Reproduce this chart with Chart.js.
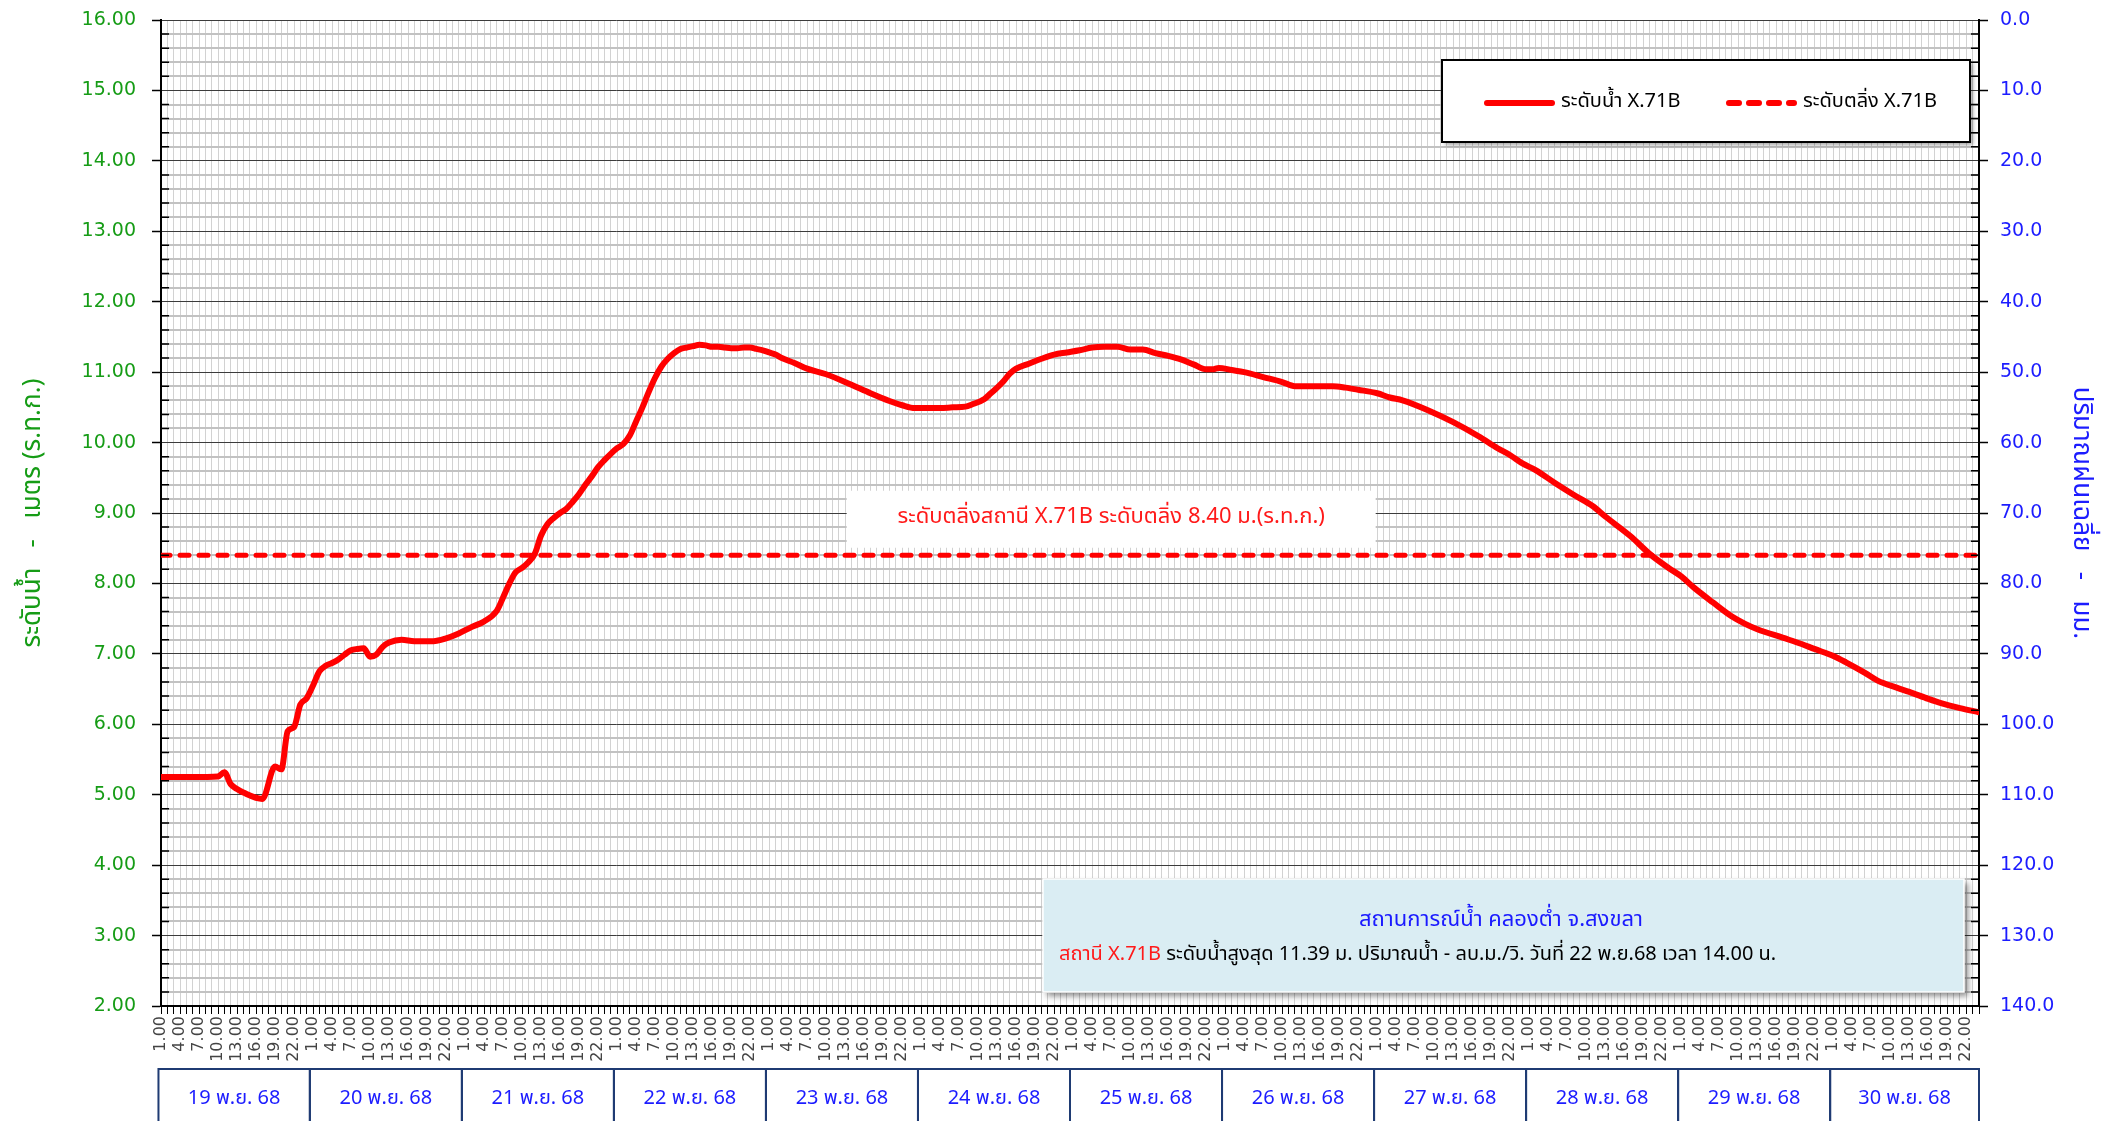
<!DOCTYPE html>
<html>
<head>
<meta charset="utf-8">
<script src="https://cdn.jsdelivr.net/npm/chart.js@4.4.1/dist/chart.umd.min.js"></script>
<style>
  html, body { margin: 0; padding: 0; background: #fff; }
  canvas { display: block; }
</style>
</head>
<body>
<canvas id="chart" width="2107" height="1121"></canvas>
<script>
// ชั่วโมงนับจาก 19 พ.ย. 68 เวลา 1.00 น. (0 = 1.00 น., 23 = 24.00 น.)
const obsHour = [
    0, 5, 9, 10, 11, 12, 13, 16, 18, 19, 20, 21, 22, 23, 24, 25, 26, 27, 28, 29,
    30, 31, 32, 33, 34, 35, 36, 38, 40, 43, 45, 47, 49, 51, 53, 54, 55, 56, 57, 58,
    59, 60, 61, 62, 63, 64, 65, 66, 67, 68, 69, 70, 71, 72, 73, 74, 75, 76, 77, 78,
    79, 80, 81, 82, 83, 84, 85, 86, 87, 88, 89, 90, 91, 92, 93, 94, 95, 96, 97, 98,
    100, 102, 105, 109, 112, 115, 117, 119, 121, 123, 125, 127, 128, 130, 131, 132, 133, 134, 135, 137,
    139, 141, 143, 145, 147, 149, 151, 153, 155, 157, 159, 161, 163, 165, 166, 167, 169, 171, 174, 177,
    179, 182, 185, 187, 189, 192, 194, 196, 200, 204, 208, 211, 213, 215, 217, 220, 223, 226, 228, 232,
    235, 238, 240, 242, 245, 248, 250, 252, 256, 259, 261, 264, 266, 269, 271, 274, 276, 279, 281, 284,
    287
];
// ระดับน้ำ X.71B (ม.ร.ท.ก.)
const waterLevel = [
    5.25, 5.25, 5.26, 5.32, 5.15, 5.08, 5.03, 4.94, 5.40, 5.36, 5.90, 5.96, 6.28, 6.37, 6.55, 6.75, 6.83, 6.87, 6.92, 6.99,
    7.05, 7.07, 7.08, 6.96, 6.99, 7.10, 7.16, 7.20, 7.18, 7.18, 7.22, 7.29, 7.38, 7.46, 7.61, 7.80, 8.00, 8.16, 8.22, 8.30,
    8.42, 8.68, 8.84, 8.93, 9.00, 9.06, 9.16, 9.27, 9.40, 9.52, 9.65, 9.75, 9.84, 9.92, 9.98, 10.10, 10.30, 10.50, 10.72, 10.92,
    11.08, 11.19, 11.27, 11.33, 11.35, 11.37, 11.39, 11.38, 11.36, 11.36, 11.35, 11.34, 11.34, 11.35, 11.35, 11.33, 11.31, 11.28, 11.25, 11.20,
    11.13, 11.05, 10.97, 10.82, 10.70, 10.59, 10.53, 10.49, 10.49, 10.49, 10.50, 10.51, 10.54, 10.62, 10.70, 10.78, 10.87, 10.98, 11.05, 11.12,
    11.19, 11.25, 11.28, 11.31, 11.35, 11.36, 11.36, 11.32, 11.32, 11.27, 11.23, 11.18, 11.11, 11.04, 11.04, 11.06, 11.03, 11.00, 10.93, 10.86,
    10.80, 10.80, 10.80, 10.78, 10.75, 10.70, 10.64, 10.60, 10.46, 10.29, 10.09, 9.92, 9.82, 9.70, 9.61, 9.43, 9.26, 9.10, 8.95, 8.67,
    8.42, 8.22, 8.10, 7.94, 7.73, 7.53, 7.43, 7.35, 7.23, 7.14, 7.07, 6.97, 6.88, 6.73, 6.62, 6.52, 6.46, 6.36, 6.30, 6.23,
    6.17
];
// ระดับตลิ่ง
const bankHour = [0, 287];
const bankLevel = [8.40, 8.40];

const dayLabels = [
    '19 พ.ย. 68', '20 พ.ย. 68', '21 พ.ย. 68', '22 พ.ย. 68', '23 พ.ย. 68', '24 พ.ย. 68',
    '25 พ.ย. 68', '26 พ.ย. 68', '27 พ.ย. 68', '28 พ.ย. 68', '29 พ.ย. 68', '30 พ.ย. 68'
];
const hourLabels = [
    '1.00', '', '', '4.00', '', '', '7.00', '', '', '10.00', '', '', '13.00', '', '',
    '16.00', '', '', '19.00', '', '', '22.00', '', ''
];

const THAI = 'Tahoma, "Noto Sans Thai", "Leelawadee UI", "DejaVu Sans", sans-serif';
const GREEN = '#169c16';
const BLUE = '#1c1cff';

const isWhole = v => Math.abs(v - Math.round(v)) < 1e-6;

// ขนาดแกนคงที่ ไม่ให้ป้ายแกนดันพื้นที่กราฟ
const fixWidth = w => s => { s.width = w; s.paddingTop = 0; s.paddingBottom = 0; };

const overlayPlugin = {
    id: 'overlay',
    afterDraw(chart) {
        const { ctx, chartArea: a, scales: { x, y, y2 } } = chart;
        ctx.save();

        // minor ticks pointing inward
        ctx.strokeStyle = '#000';
        ctx.lineWidth = 1.5;
        ctx.beginPath();
        y.ticks.forEach(t => {
            if (isWhole(t.value)) return;
            const py = y.getPixelForValue(t.value);
            ctx.moveTo(a.left, py); ctx.lineTo(a.left + 8, py);
        });
        y2.ticks.forEach(t => {
            if (t.value % 10 === 0) return;
            const py = y2.getPixelForValue(t.value);
            ctx.moveTo(a.right - 8, py); ctx.lineTo(a.right, py);
        });
        ctx.stroke();

        // bank label
        ctx.font = '22px ' + THAI;
        const bankText = 'ระดับตลิ่งสถานี X.71B ระดับตลิ่ง 8.40 ม.(ร.ท.ก.)';
        const bx = x.getPixelForValue(150);
        const by = y.getPixelForValue(bankLevel[0]) - 37;
        const bw = 529, bh = 57;
        ctx.fillStyle = '#fff';
        ctx.fillRect(bx - bw / 2, by - bh / 2 + 1, bw, bh);
        ctx.fillStyle = '#ff1a1a';
        ctx.textAlign = 'center';
        ctx.textBaseline = 'middle';
        ctx.fillText(bankText, bx, by);

        // legend
        const lx = a.right - 537, ly = a.top + 40, lw = 528, lh = 82;
        ctx.save();
        ctx.shadowColor = 'rgba(0,0,0,0.35)';
        ctx.shadowBlur = 4;
        ctx.shadowOffsetX = 3;
        ctx.shadowOffsetY = 3;
        ctx.fillStyle = '#fff';
        ctx.fillRect(lx, ly, lw, lh);
        ctx.restore();
        ctx.strokeStyle = '#000';
        ctx.lineWidth = 2;
        ctx.strokeRect(lx, ly, lw, lh);
        const items = [
            { ds: chart.data.datasets[0], x0: lx + 45 },
            { ds: chart.data.datasets[1], x0: lx + 287 }
        ];
        ctx.font = '20px ' + THAI;
        ctx.textAlign = 'left';
        items.forEach(it => {
            const my = ly + 43;
            ctx.save();
            ctx.strokeStyle = it.ds.borderColor;
            ctx.lineWidth = 6;
            ctx.lineCap = 'round';
            ctx.setLineDash(it.ds.borderDash ? [10, 10] : []);
            ctx.beginPath();
            ctx.moveTo(it.x0, my); ctx.lineTo(it.x0 + 65, my);
            ctx.stroke();
            ctx.restore();
            ctx.fillStyle = '#000';
            ctx.fillText(it.ds.label, it.x0 + 74, my);
        });

        // info box
        const ix = 1043, iy = a.bottom - 127, iw = 921, ih = 113;
        ctx.save();
        ctx.shadowColor = 'rgba(0,0,0,0.45)';
        ctx.shadowBlur = 6;
        ctx.shadowOffsetX = 4;
        ctx.shadowOffsetY = 4;
        ctx.fillStyle = '#daedf3';
        ctx.fillRect(ix, iy, iw, ih);
        ctx.restore();
        ctx.strokeStyle = '#fff';
        ctx.lineWidth = 1.5;
        ctx.strokeRect(ix, iy, iw, ih);
        ctx.textAlign = 'center';
        ctx.fillStyle = '#1a1aff';
        ctx.font = '22px ' + THAI;
        ctx.fillText('สถานการณ์น้ำ คลองต่ำ จ.สงขลา', ix + 458, iy + 43);
        ctx.textAlign = 'left';
        ctx.font = '20px ' + THAI;
        const red = 'สถานี X.71B';
        ctx.fillStyle = '#ff1a1a';
        ctx.fillText(red, ix + 16, iy + 77);
        const rw = ctx.measureText(red).width;
        ctx.fillStyle = '#000';
        ctx.fillText(' ระดับน้ำสูงสุด 11.39 ม. ปริมาณน้ำ - ลบ.ม./วิ. วันที่ 22 พ.ย.68 เวลา 14.00 น.', ix + 16 + rw, iy + 77);

        // day boxes under the hour labels
        const top = a.bottom + 63;
        ctx.strokeStyle = '#1f3b73';
        ctx.lineWidth = 2;
        ctx.font = '20px ' + THAI;
        ctx.textAlign = 'center';
        dayLabels.forEach((lab, d) => {
            const x0 = x.getPixelForValue(Math.max(d * 24 - 0.5, -0.4));
            const x1 = x.getPixelForValue(Math.min(d * 24 + 23.5, 287));
            ctx.strokeRect(x0, top, x1 - x0, 80);
            ctx.fillStyle = BLUE;
            ctx.fillText(lab, (x0 + x1) / 2, top + 31);
        });

        ctx.restore();
    }
};

new Chart(document.getElementById('chart').getContext('2d'), {
    type: 'line',
    data: {
        datasets: [
            {
                label: 'ระดับน้ำ X.71B',
                data: obsHour.map((h, i) => ({ x: h, y: waterLevel[i] })),
                borderColor: '#ff0000',
                borderWidth: 6,
                pointRadius: 0,
                cubicInterpolationMode: 'monotone',
                borderJoinStyle: 'round',
                borderCapStyle: 'round',
                yAxisID: 'y'
            },
            {
                label: 'ระดับตลิ่ง X.71B',
                data: bankHour.map((h, i) => ({ x: h, y: bankLevel[i] })),
                borderColor: '#ff0000',
                borderWidth: 5,
                borderDash: [9, 10],
                borderCapStyle: 'round',
                pointRadius: 0,
                yAxisID: 'y'
            }
        ]
    },
    options: {
        responsive: false,
        animation: false,
        events: [],
        layout: { padding: { top: 20, left: 0, right: 0, bottom: 0 } },
        plugins: {
            legend: { display: false },
            tooltip: { enabled: false }
        },
        scales: {
            x: {
                type: 'linear',
                min: 0,
                max: 287,
                afterFit: s => { s.height = 115; s.paddingLeft = 0; s.paddingRight = 0; },
                afterBuildTicks: s => { s.ticks = Array.from({ length: 288 }, (_, i) => ({ value: i })); },
                border: { color: '#000', width: 2 },
                grid: { color: '#d2d2d2', lineWidth: 1, tickLength: 8, tickColor: '#000', tickWidth: 1 },
                ticks: {
                    autoSkip: false,
                    minRotation: 90,
                    maxRotation: 90,
                    padding: 2,
                    color: '#444',
                    font: { family: '"DejaVu Sans"', size: 16 },
                    callback: v => hourLabels[v % 24]
                }
            },
            y: {
                position: 'left',
                min: 2,
                max: 16,
                afterFit: fixWidth(161),
                border: { color: '#000', width: 2 },
                grid: {
                    color: c => isWhole(c.tick.value) ? '#3c3c3c' : '#c2c2c2',
                    lineWidth: c => isWhole(c.tick.value) ? 1 : 2,
                    tickColor: c => isWhole(c.tick.value) ? '#000' : 'rgba(0,0,0,0)',
                    tickLength: 9,
                    tickWidth: 1.5
                },
                ticks: {
                    stepSize: 0.2,
                    maxTicksLimit: 1000,
                    autoSkip: false,
                    padding: 16,
                    color: GREEN,
                    font: { family: '"DejaVu Sans"', size: 19 },
                    callback: v => isWhole(v) ? v.toFixed(2) : ''
                },
                title: {
                    display: true,
                    text: 'ระดับน้ำ   -   เมตร (ร.ท.ก.)',
                    color: GREEN,
                    font: { family: THAI, size: 26 },
                    padding: { top: 19, bottom: 0 }
                }
            },
            y2: {
                position: 'right',
                min: 0,
                max: 140,
                reverse: true,
                afterFit: fixWidth(128),
                border: { color: '#000', width: 2 },
                grid: {
                    drawOnChartArea: false,
                    tickColor: c => c.tick.value % 10 === 0 ? '#000' : 'rgba(0,0,0,0)',
                    tickLength: 9,
                    tickWidth: 1.5
                },
                ticks: {
                    stepSize: 2,
                    maxTicksLimit: 1000,
                    autoSkip: false,
                    padding: 12,
                    color: BLUE,
                    font: { family: '"DejaVu Sans"', size: 19 },
                    callback: v => v % 10 === 0 ? v.toFixed(1) : ''
                },
                title: {
                    display: true,
                    text: 'ปริมาณฝนเฉลี่ย   -   มม.',
                    color: BLUE,
                    font: { family: THAI, size: 26 },
                    padding: { top: 12, bottom: 0 }
                }
            }
        }
    },
    plugins: [overlayPlugin]
});
</script>
</body>
</html>
